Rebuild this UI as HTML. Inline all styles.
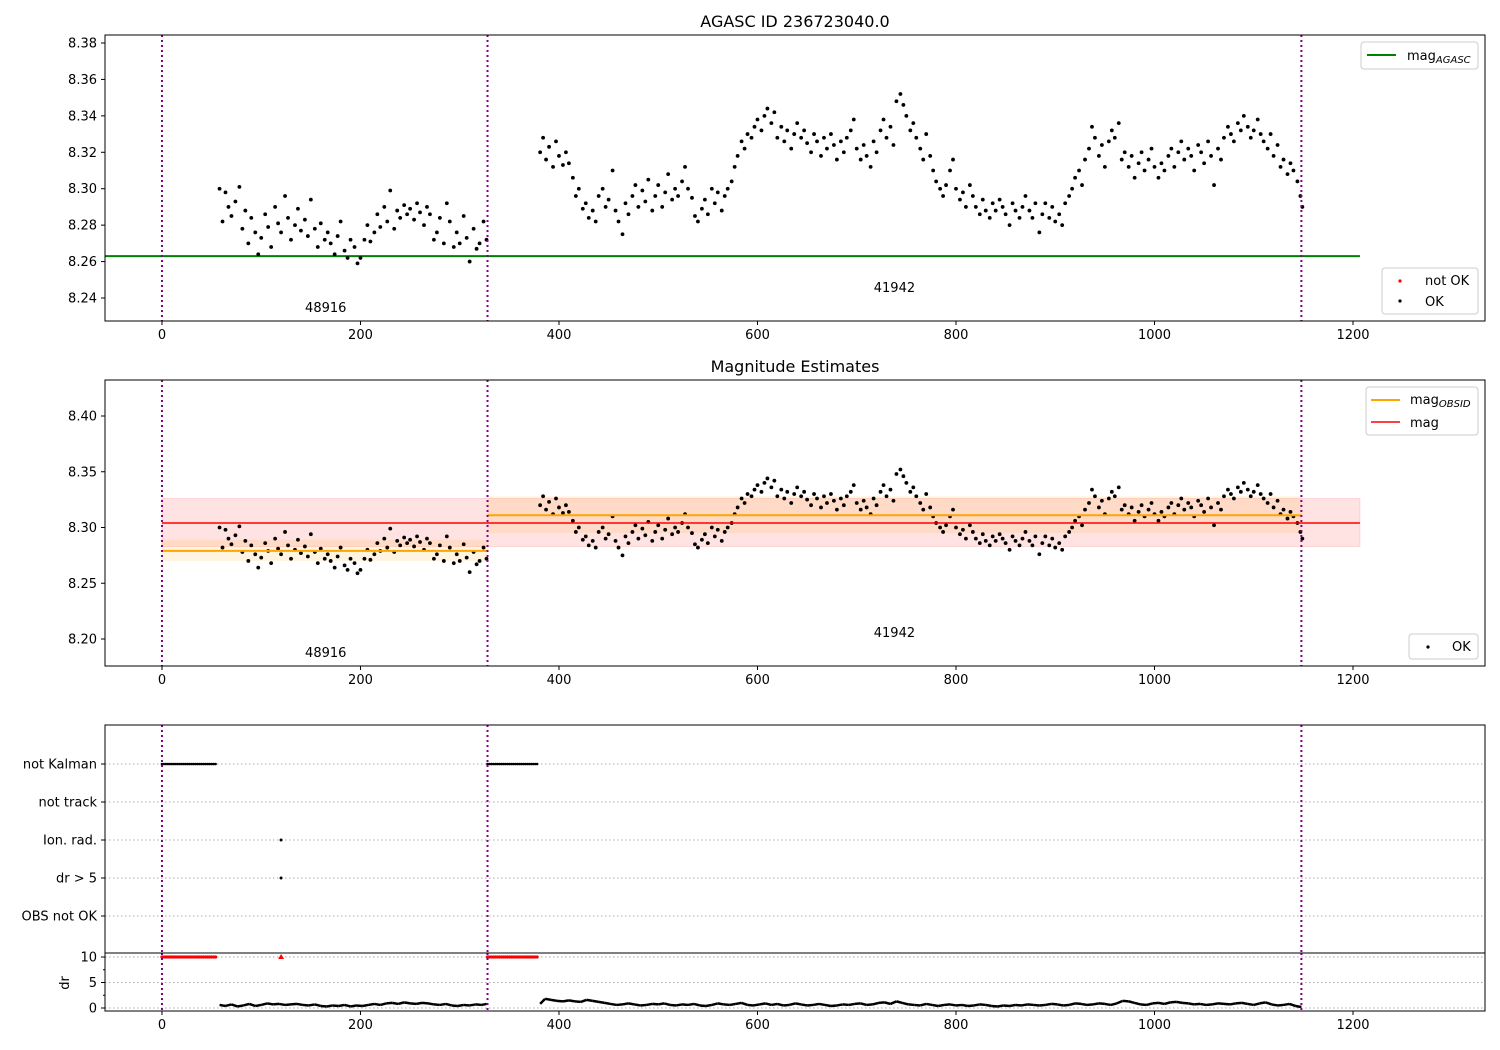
<!DOCTYPE html>
<html><head><meta charset="utf-8"><style>
html,body{margin:0;padding:0;background:#fff;}
svg{display:block;font-family:"DejaVu Sans","Liberation Sans",sans-serif;}
</style></head><body>
<svg id="fig" width="1500" height="1050" viewBox="0 0 1500 1050" xmlns="http://www.w3.org/2000/svg"></svg>
<script>
const seg1 = [[58,8.300],[61,8.282],[64,8.298],[67,8.290],[70,8.285],[74,8.293],[78,8.301],[81,8.278],[84,8.288],[87,8.270],[90,8.284],[94,8.276],[97,8.264],[100,8.273],[104,8.286],[107,8.279],[110,8.268],[114,8.290],[117,8.281],[120,8.276],[124,8.296],[127,8.284],[130,8.272],[134,8.280],[137,8.289],[140,8.277],[144,8.283],[147,8.274],[150,8.294],[154,8.278],[157,8.268],[160,8.281],[164,8.272],[167,8.276],[170,8.270],[174,8.264],[177,8.274],[180,8.282],[184,8.266],[187,8.262],[190,8.272],[194,8.268],[197,8.259],[200,8.262],[204,8.272],[207,8.280],[210,8.271],[214,8.276],[217,8.286],[220,8.279],[224,8.290],[227,8.282],[230,8.299],[234,8.278],[237,8.288],[240,8.284],[244,8.291],[247,8.286],[250,8.289],[254,8.283],[257,8.292],[260,8.287],[264,8.280],[267,8.290],[270,8.286],[274,8.272],[277,8.276],[280,8.284],[284,8.270],[287,8.292],[290,8.282],[294,8.268],[297,8.276],[300,8.270],[304,8.285],[307,8.273],[310,8.260],[314,8.278],[317,8.267],[320,8.270],[324,8.282],[327,8.272]];
const seg2 = [[381,8.320],[384,8.328],[387,8.316],[390,8.323],[394,8.312],[397,8.326],[400,8.318],[404,8.313],[407,8.320],[410,8.314],[414,8.306],[417,8.296],[420,8.300],[424,8.289],[427,8.292],[430,8.284],[434,8.288],[437,8.282],[440,8.296],[444,8.300],[447,8.290],[450,8.294],[454,8.310],[457,8.288],[460,8.282],[464,8.275],[467,8.292],[470,8.286],[474,8.296],[477,8.302],[480,8.290],[484,8.299],[487,8.293],[490,8.305],[494,8.288],[497,8.296],[500,8.302],[504,8.290],[507,8.298],[510,8.308],[514,8.294],[517,8.300],[520,8.296],[524,8.304],[527,8.312],[530,8.300],[534,8.295],[537,8.285],[540,8.282],[544,8.289],[547,8.294],[550,8.286],[554,8.300],[557,8.292],[560,8.298],[564,8.288],[567,8.296],[570,8.300],[574,8.304],[577,8.312],[580,8.318],[584,8.326],[587,8.322],[590,8.330],[594,8.328],[597,8.334],[600,8.338],[604,8.332],[607,8.340],[610,8.344],[614,8.336],[617,8.342],[620,8.328],[624,8.334],[627,8.326],[630,8.332],[634,8.322],[637,8.330],[640,8.336],[644,8.328],[647,8.332],[650,8.325],[654,8.320],[657,8.330],[660,8.326],[664,8.318],[667,8.328],[670,8.322],[674,8.330],[677,8.324],[680,8.316],[684,8.326],[687,8.320],[690,8.328],[694,8.332],[697,8.338],[700,8.322],[704,8.316],[707,8.324],[710,8.318],[714,8.312],[717,8.326],[720,8.320],[724,8.332],[727,8.338],[730,8.328],[734,8.334],[737,8.324],[740,8.348],[744,8.352],[747,8.346],[750,8.340],[754,8.332],[757,8.336],[760,8.328],[764,8.322],[767,8.316],[770,8.330],[774,8.318],[777,8.310],[780,8.304],[784,8.300],[787,8.296],[790,8.302],[794,8.310],[797,8.316],[800,8.300],[804,8.294],[807,8.298],[810,8.290],[814,8.302],[817,8.296],[820,8.290],[824,8.286],[827,8.294],[830,8.288],[834,8.284],[837,8.292],[840,8.288],[844,8.294],[847,8.290],[850,8.286],[854,8.280],[857,8.292],[860,8.288],[864,8.284],[867,8.290],[870,8.296],[874,8.288],[877,8.284],[880,8.292],[884,8.276],[887,8.286],[890,8.292],[894,8.284],[897,8.290],[900,8.282],[904,8.286],[907,8.280],[910,8.292],[914,8.296],[917,8.300],[920,8.306],[924,8.310],[927,8.302],[930,8.316],[934,8.322],[937,8.334],[940,8.328],[944,8.318],[947,8.324],[950,8.312],[954,8.326],[957,8.332],[960,8.328],[964,8.336],[967,8.316],[970,8.320],[974,8.312],[977,8.318],[980,8.306],[984,8.314],[987,8.320],[990,8.310],[994,8.316],[997,8.322],[1000,8.312],[1004,8.306],[1007,8.314],[1010,8.310],[1014,8.318],[1017,8.322],[1020,8.312],[1024,8.320],[1027,8.326],[1030,8.316],[1034,8.322],[1037,8.318],[1040,8.310],[1044,8.324],[1047,8.320],[1050,8.314],[1054,8.326],[1057,8.318],[1060,8.302],[1064,8.322],[1067,8.316],[1070,8.328],[1074,8.334],[1077,8.330],[1080,8.326],[1084,8.336],[1087,8.332],[1090,8.340],[1094,8.334],[1097,8.328],[1100,8.332],[1104,8.338],[1107,8.330],[1110,8.326],[1114,8.322],[1117,8.330],[1120,8.318],[1124,8.324],[1127,8.312],[1130,8.316],[1134,8.308],[1137,8.314],[1140,8.310],[1144,8.304],[1147,8.296],[1149,8.290]];
const drPts = [[58,0.6],[64,0.4],[70,0.7],[76,0.3],[82,0.5],[88,0.8],[94,0.4],[100,0.6],[106,0.9],[112,0.7],[118,0.8],[124,0.6],[130,0.7],[136,0.8],[142,0.6],[148,0.5],[154,0.7],[160,0.4],[166,0.3],[172,0.5],[178,0.4],[184,0.6],[190,0.3],[196,0.5],[202,0.4],[208,0.6],[214,0.8],[220,0.6],[226,0.9],[232,1.0],[238,0.8],[244,1.1],[250,0.9],[256,0.8],[262,1.0],[268,0.9],[274,0.7],[280,0.6],[286,0.8],[292,0.5],[298,0.4],[304,0.6],[310,0.5],[316,0.7],[322,0.6],[327,0.8],
[381,0.8],[386,1.8],[392,1.6],[398,1.4],[404,1.3],[410,1.5],[416,1.3],[422,1.2],[428,1.6],[434,1.4],[440,1.2],[446,1.0],[452,0.8],[458,0.6],[464,0.7],[470,0.9],[476,0.7],[482,0.5],[488,0.6],[494,0.8],[500,0.7],[506,0.9],[512,0.6],[518,0.5],[524,0.7],[530,0.6],[536,0.8],[542,0.5],[548,0.4],[554,0.6],[560,0.9],[566,0.7],[572,0.6],[578,0.8],[584,1.0],[590,0.6],[596,0.5],[602,0.7],[608,0.9],[614,0.6],[620,0.8],[626,0.5],[632,0.6],[638,0.9],[644,0.7],[650,0.5],[656,0.6],[662,0.8],[668,0.6],[674,0.4],[680,0.5],[686,0.7],[692,0.6],[698,0.8],[704,0.9],[710,0.6],[716,0.7],[722,1.0],[728,1.1],[734,0.8],[740,1.3],[746,1.0],[752,0.7],[758,0.6],[764,0.5],[770,0.8],[776,0.6],[782,0.4],[788,0.6],[794,0.7],[800,0.5],[806,0.6],[812,0.4],[818,0.5],[824,0.7],[830,0.6],[836,0.4],[842,0.3],[848,0.5],[854,0.4],[860,0.6],[866,0.5],[872,0.7],[878,0.6],[884,0.5],[890,0.6],[896,0.8],[902,0.7],[908,0.5],[914,0.6],[920,0.9],[926,0.8],[932,0.6],[938,0.7],[944,0.9],[950,0.8],[956,0.6],[962,0.9],[968,1.4],[974,1.3],[980,1.0],[986,0.7],[992,0.6],[998,0.9],[1004,1.0],[1010,0.8],[1016,1.1],[1022,1.2],[1028,1.0],[1034,0.9],[1040,0.7],[1046,0.8],[1052,0.6],[1058,0.7],[1064,0.9],[1070,0.8],[1076,0.7],[1082,0.9],[1088,1.0],[1094,0.8],[1100,0.6],[1106,0.9],[1112,1.1],[1118,0.7],[1124,0.5],[1130,0.6],[1136,0.8],[1142,0.4],[1148,0.2]];
const notKalmanX = [0,2,4,6,8,10,12,14,16,18,20,22,24,26,28,30,32,34,36,38,40,42,44,46,48,50,52,54,328,330,332,334,336,338,340,342,344,346,348,350,352,354,356,358,360,362,364,366,368,370,372,374,376,378];
const ionRadX = [120];
const drGt5X = [120];
const drFlagX = [120];
const obsidBounds = [0,328,1148];
const obsids = ["48916","41942"];
const obsidLabelX = [165,738];
const agascMag = 8.263;
const magMean = 8.304, magLo = 8.283, magHi = 8.326;
const obsMag = [8.279,8.311];
const obsLo = [8.270,8.295];
const obsHi = [8.289,8.328];
const flagCats = ["not Kalman","not track","Ion. rad.","dr > 5","OBS not OK"];
const xTicks = [0,200,400,600,800,1000,1200];
const y1Ticks = [8.24,8.26,8.28,8.30,8.32,8.34,8.36,8.38];
const y2Ticks = [8.20,8.25,8.30,8.35,8.40];
const drTicks = [0,5,10];

const NS="http://www.w3.org/2000/svg";
const svg=document.getElementById('fig');
function el(tag,attrs,parent,text){const e=document.createElementNS(NS,tag);for(const k in attrs)e.setAttribute(k,attrs[k]);if(text!==undefined)e.textContent=text;(parent||svg).appendChild(e);return e;}
const L=105,R=1485;
const xs=v=>L+(v+57.4)*(R-L)/(1333+57.4);
function lin(d0,d1,p0,p1){return v=>p0+(v-d0)*(p1-p0)/(d1-d0);}
const y1=lin(8.38,8.24,43,298);
const y2=lin(8.40,8.20,416,639);
const yf=i=>764+i*38;
const yd=lin(10,0,957,1008);

function xAxis(bottom,g){
  xTicks.forEach(t=>{const x=xs(t);
    const tk=el('line',{x1:x,x2:x,y1:bottom,y2:bottom+4,stroke:'#000'},g);
    
    const lb=el('text',{x:x,y:bottom+18,'text-anchor':'middle','font-size':13},g,String(t));
    });
}
function yAxis(ticks,ys,fmt,g){
  ticks.forEach(t=>{const y=ys(t);
    el('line',{x1:L-4,x2:L,y1:y,y2:y,stroke:'#000'},g);
    const lb=el('text',{x:L-8,y:y+4.5,'text-anchor':'end','font-size':13},g,fmt(t));
    });
}
function frame(top,bottom,name){
  const r=el('rect',{x:L,y:top,width:R-L,height:bottom-top,fill:'none',stroke:'#000','stroke-width':1});
  
}
function vlines(top,bottom,g){
  obsidBounds.forEach(b=>{const l=el('line',{x1:xs(b),x2:xs(b),y1:top,y2:bottom,stroke:'#800080','stroke-width':2,'stroke-dasharray':'2,3'},g);
    });
}
function dots(pts,ys,g,col){
  pts.forEach(p=>{const c=el('circle',{cx:xs(p[0]),cy:ys(p[1]),r:1.9,fill:col||'#000'},g);
    });
}
function legendBox(x,y,w,h,g){return el('rect',{x:x,y:y,width:w,height:h,rx:3,fill:'#fff','fill-opacity':0.85,stroke:'#ccc'},g);}

// Panel 1
const g1=el('g',{});
const t1=el('text',{x:795,y:27,'text-anchor':'middle','font-size':16},g1,'AGASC ID 236723040.0');

const ag=el('line',{x1:L,x2:xs(1207),y1:y1(agascMag),y2:y1(agascMag),stroke:'#008000','stroke-width':2},g1);

dots(seg1,y1,g1);dots(seg2,y1,g1);
vlines(35,321,g1);
obsids.forEach((o,i)=>{const t=el('text',{x:xs(obsidLabelX[i]),y:i?292:312,'text-anchor':'middle','font-size':13},g1,o);
  });
xAxis(321,g1);yAxis(y1Ticks,y1,v=>v.toFixed(2),g1);
frame(35,321,'agasc-axes');
const lg1=el('g',{});
legendBox(1361,42,117,27,lg1);
el('line',{x1:1367,x2:1396,y1:55,y2:55,stroke:'#008000','stroke-width':2},lg1);
const lt=el('text',{x:1407,y:60,'font-size':13},lg1);lt.textContent='mag';
el('tspan',{'font-size':10,'font-style':'italic',dy:3},lt,'AGASC');
const lg2=el('g',{});
legendBox(1382,268,96,46,lg2);
el('circle',{cx:1400,cy:281,r:1.6,fill:'red'},lg2);el('text',{x:1425,y:285,'font-size':13},lg2,'not OK');
el('circle',{cx:1400,cy:301,r:1.6,fill:'#000'},lg2);el('text',{x:1425,y:306,'font-size':13},lg2,'OK');

// Panel 2
const g2=el('g',{});
const t2=el('text',{x:795,y:372,'text-anchor':'middle','font-size':16},g2,'Magnitude Estimates');

const band=el('rect',{x:xs(0),y:y2(magHi),width:xs(1207)-xs(0),height:y2(magLo)-y2(magHi),fill:'red','fill-opacity':0.11,stroke:'red','stroke-opacity':0.12},g2);

for(let i=0;i<2;i++){
  const b=el('rect',{x:xs(obsidBounds[i]),y:y2(obsHi[i]),width:xs(obsidBounds[i+1])-xs(obsidBounds[i]),height:y2(obsLo[i])-y2(obsHi[i]),fill:'orange','fill-opacity':0.12},g2);
  
}
dots(seg1,y2,g2);dots(seg2,y2,g2);
for(let i=0;i<2;i++){
  const l=el('line',{x1:xs(obsidBounds[i]),x2:xs(obsidBounds[i+1]),y1:y2(obsMag[i]),y2:y2(obsMag[i]),stroke:'orange','stroke-width':2},g2);
  
}
const ml=el('line',{x1:xs(0),x2:xs(1207),y1:y2(magMean),y2:y2(magMean),stroke:'red','stroke-width':1.5},g2);

vlines(380,666,g2);
obsids.forEach((o,i)=>{const t=el('text',{x:xs(obsidLabelX[i]),y:i?637:657,'text-anchor':'middle','font-size':13},g2,o);
  });
xAxis(666,g2);yAxis(y2Ticks,y2,v=>v.toFixed(2),g2);
frame(380,666,'estimates-axes');
const lg3=el('g',{});
legendBox(1366,387,112,48,lg3);
el('line',{x1:1371,x2:1400,y1:400,y2:400,stroke:'orange','stroke-width':2},lg3);
const lt2=el('text',{x:1410,y:404,'font-size':13},lg3);lt2.textContent='mag';
el('tspan',{'font-size':10,'font-style':'italic',dy:3},lt2,'OBSID');
el('line',{x1:1371,x2:1400,y1:422,y2:422,stroke:'red','stroke-width':1.5},lg3);
el('text',{x:1410,y:427,'font-size':13},lg3,'mag');
const lg4=el('g',{});
legendBox(1409,634,69,25,lg4);
el('circle',{cx:1428,cy:647,r:1.6,fill:'#000'},lg4);el('text',{x:1452,y:651,'font-size':13},lg4,'OK');

// Panel 3 flags
const g3=el('g',{});
flagCats.forEach((c,i)=>{const y=yf(i);
  el('line',{x1:L,x2:R,y1:y,y2:y,stroke:'#aaa','stroke-dasharray':'1.5,2.5'},g3);
  el('line',{x1:L-4,x2:L,y1:y,y2:y,stroke:'#000'},g3);
  const t=el('text',{x:L-8,y:y+4.5,'text-anchor':'end','font-size':13},g3,c);
  });
notKalmanX.forEach(x=>{const c=el('circle',{cx:xs(x),cy:yf(0),r:1.3,fill:'#000'},g3);
  });
ionRadX.forEach(x=>{const c=el('circle',{cx:xs(x),cy:yf(2),r:1.5,fill:'#000'},g3);
  });
drGt5X.forEach(x=>{const c=el('circle',{cx:xs(x),cy:yf(3),r:1.5,fill:'#000'},g3);
  });
vlines(725,953,g3);
frame(725,953,'flags-axes');

// dr panel
const g4=el('g',{});
drTicks.forEach(t=>{const y=yd(t);
  el('line',{x1:L,x2:R,y1:y,y2:y,stroke:'#aaa','stroke-dasharray':'1.5,2.5'},g4);
  el('line',{x1:L-4,x2:L,y1:y,y2:y,stroke:'#000'},g4);
  el('text',{x:L-8,y:y+4.5,'text-anchor':'end','font-size':13},g4,String(t));});
[2.5,7.5].forEach(t=>el('line',{x1:L-2,x2:L,y1:yd(t),y2:yd(t),stroke:'#000'},g4));
const yl=el('text',{x:0,y:0,'text-anchor':'middle','font-size':13,transform:'translate(69,983) rotate(-90)'},g4,'dr');

notKalmanX.forEach(x=>{const c=el('circle',{cx:xs(x),cy:yd(10),r:1.6,fill:'red'},g4);
  });
drFlagX.forEach(x=>{const p=el('path',{d:`M${xs(x)-3},${yd(10)+2} L${xs(x)+3},${yd(10)+2} L${xs(x)},${yd(10)-3} Z`,fill:'red'},g4);
  });
for(let i=1;i<drPts.length;i++){
  const a=drPts[i-1],b=drPts[i];
  if(b[0]-a[0]>10)continue;
  const s=el('line',{x1:xs(a[0]),y1:yd(a[1]),x2:xs(b[0]),y2:yd(b[1]),stroke:'#000','stroke-width':2.5},g4);
  
}
vlines(953,1011,g4);
xAxis(1011,g4);
frame(953,1011,'dr-axes');
</script>
</body></html>
